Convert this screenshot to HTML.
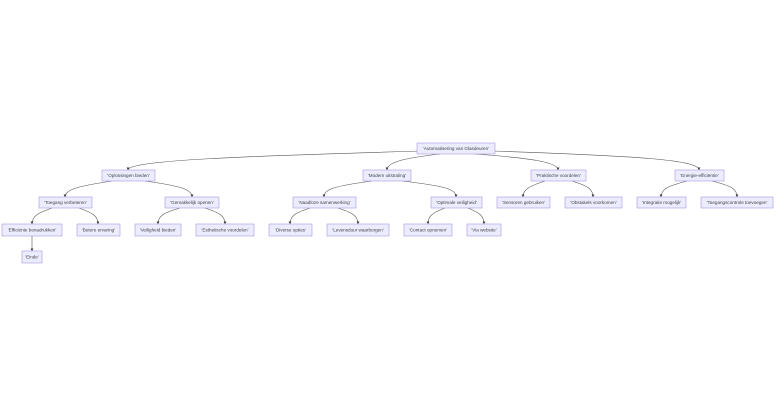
<!DOCTYPE html>
<html><head><meta charset="utf-8"><style>
html,body{margin:0;padding:0;background:#fff;}
svg{display:block;}
text{font-family:"Liberation Sans",sans-serif;font-size:4.6px;fill:#444;text-anchor:middle;dominant-baseline:central;}
rect{fill:#ECECFF;stroke:#a896e0;stroke-width:0.6;}
path{fill:none;stroke:#555;stroke-width:0.6;}
</style></head><body>
<svg width="784" height="406" viewBox="0 0 784 406" xmlns="http://www.w3.org/2000/svg">
<defs><marker id="a" viewBox="0 0 10 10" refX="9" refY="5" markerWidth="5" markerHeight="5" orient="auto"><path d="M0,0L10,5L0,10z" style="fill:#333;stroke:none"/></marker></defs>
<g marker-end="url(#a)">
<path d="M420,151 C250,156 128,160 128,170"/>
<path d="M440,154 C405,158 387,162 387,170"/>
<path d="M475,154 C530,158 558,162 558,170"/>
<path d="M492,151 C640,156 699,160 699,170"/>
<path d="M112,181 C80,186 65,189 65,197"/>
<path d="M145,181 C180,186 192,189 192,197"/>
<path d="M372,181 C335,186 324,189 324,197"/>
<path d="M402,181 C445,186 456,189 456,197"/>
<path d="M545,181 C530,186 523,189 523,197"/>
<path d="M572,181 C588,186 593,189 593,197"/>
<path d="M687,181 C668,186 661,189 661,197"/>
<path d="M712,181 C732,186 737,189 737,197"/>
<path d="M52,208 C38,213 32,216 32,224"/>
<path d="M79,208 C93,213 98,216 98,224"/>
<path d="M180,208 C163,213 158,216 158,224"/>
<path d="M205,208 C220,213 225,216 225,224"/>
<path d="M310,208 C295,213 290,216 290,224"/>
<path d="M338,208 C353,213 358,216 358,224"/>
<path d="M445,208 C432,213 428,216 428,224"/>
<path d="M468,208 C480,213 484,216 484,224"/>
<path d="M32,236 L32,251"/>
</g>
<rect x="417" y="143" width="78" height="11"/><text x="456" y="148.5">'Automatisering van Glasdeuren'</text>
<rect x="102" y="170" width="53" height="11"/><text x="128.5" y="175.5">'Oplossingen bieden'</text>
<rect x="363" y="170" width="48" height="11"/><text x="387" y="175.5">'Modern uitstraling'</text>
<rect x="531" y="170" width="55" height="11"/><text x="558.5" y="175.5">'Praktische voordelen'</text>
<rect x="675" y="170" width="49" height="11"/><text x="699.5" y="175.5">'Energie-efficiëntie'</text>
<rect x="39" y="197" width="53" height="11"/><text x="65.5" y="202.5">'Toegang verbeteren'</text>
<rect x="165" y="197" width="54" height="11"/><text x="192" y="202.5">'Gemakkelijk openen'</text>
<rect x="293" y="197" width="63" height="11"/><text x="324.5" y="202.5">'Naadloze samenwerking'</text>
<rect x="431" y="197" width="51" height="11"/><text x="456.5" y="202.5">'Optimale veiligheid'</text>
<rect x="497" y="197" width="53" height="11"/><text x="523.5" y="202.5">'Sensoren gebruiken'</text>
<rect x="565" y="197" width="57" height="11"/><text x="593.5" y="202.5">'Obstakels voorkomen'</text>
<rect x="637" y="197" width="49" height="11"/><text x="661.5" y="202.5">'Integratie mogelijk'</text>
<rect x="701" y="197" width="72" height="11"/><text x="737" y="202.5">'Toegangscontrole toevoegen'</text>
<rect x="2" y="224" width="60" height="12"/><text x="32" y="230">'Efficiënte benadrukken'</text>
<rect x="77" y="224" width="43" height="12"/><text x="98.5" y="230">'Betere ervaring'</text>
<rect x="135" y="224" width="46" height="12"/><text x="158" y="230">'Veiligheid bieden'</text>
<rect x="196" y="224" width="58" height="12"/><text x="225" y="230">'Esthetische voordelen'</text>
<rect x="269" y="224" width="43" height="12"/><text x="290.5" y="230">'Diverse opties'</text>
<rect x="327" y="224" width="62" height="12"/><text x="358" y="230">'Levensduur waarborgen'</text>
<rect x="404" y="224" width="48" height="12"/><text x="428" y="230">'Contact opnemen'</text>
<rect x="467" y="224" width="34" height="12"/><text x="484" y="230">'Via website'</text>
<rect x="22" y="251" width="20" height="12"/><text x="32" y="257">'Einde'</text>
</svg>
</body></html>
